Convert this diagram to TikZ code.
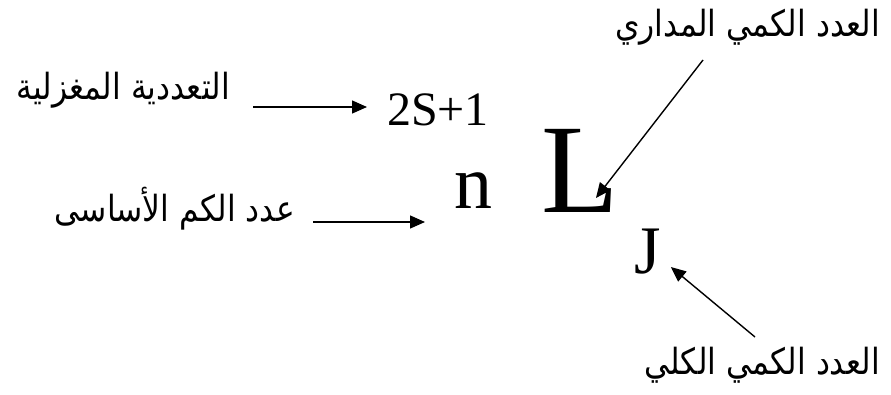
\documentclass[tikz,border=0pt]{standalone}
\usepackage{fontspec}
\setmainfont{Liberation Serif}
\newfontfamily\arabicfont[Script=Arabic, FakeStretch=0.87]{DejaVu Sans}
\TeXXeTstate=1
\usetikzlibrary{arrows.meta}

\begin{document}
\begin{tikzpicture}[x=1pt,y=-1pt,
    arr/.style={-{Triangle[length=15pt,width=13pt]}, line width=1.4pt},
    sym/.style={anchor=base west, inner sep=0pt},
    ar/.style={anchor=base east, inner sep=0pt, font=\arabicfont\fontsize{36}{40}\selectfont}]
    \useasboundingbox (0,0) rectangle (891,394);

    % term symbol
    \node[sym, font=\fontsize{48}{48}\selectfont] (mult) at (387,125) {2S+1};
    \node[sym, font=\fontsize{76}{76}\selectfont] (n) at (454,208) {n};
    \node[sym, font=\fontsize{127}{127}\selectfont] (L) at (541,212) {L};
    \node[sym, font=\fontsize{68}{68}\selectfont] (J) at (634,273) {J};

    % labels
    \node[ar] (spin) at (230,99) {\beginR التعددية المغزلية\endR};
    \node[ar] (main) at (295,221) {\beginR عدد الكم الأساسى\endR};
    \node[ar] (orb) at (880,36) {\beginR العدد الكمي المداري\endR};
    \node[ar] (tot) at (880,374) {\beginR العدد الكمي الكلي\endR};

    % arrows
    \coordinate (t1) at (253,107);
    \coordinate (t2) at (313,222);
    \coordinate (t3) at (703,60);
    \coordinate (t4) at (755,337);
    \draw[arr, shorten >=20pt] (t1) -- (mult.west |- t1);
    \draw[arr, shorten >=29pt] (t2) -- (n.west |- t2);
    \draw[arr] (t3) -- ([shift={(-23,-14)}]L.base east);
    \draw[arr] (t4) -- ([shift={(10,-6)}]J.base east);
\end{tikzpicture}
\end{document}
